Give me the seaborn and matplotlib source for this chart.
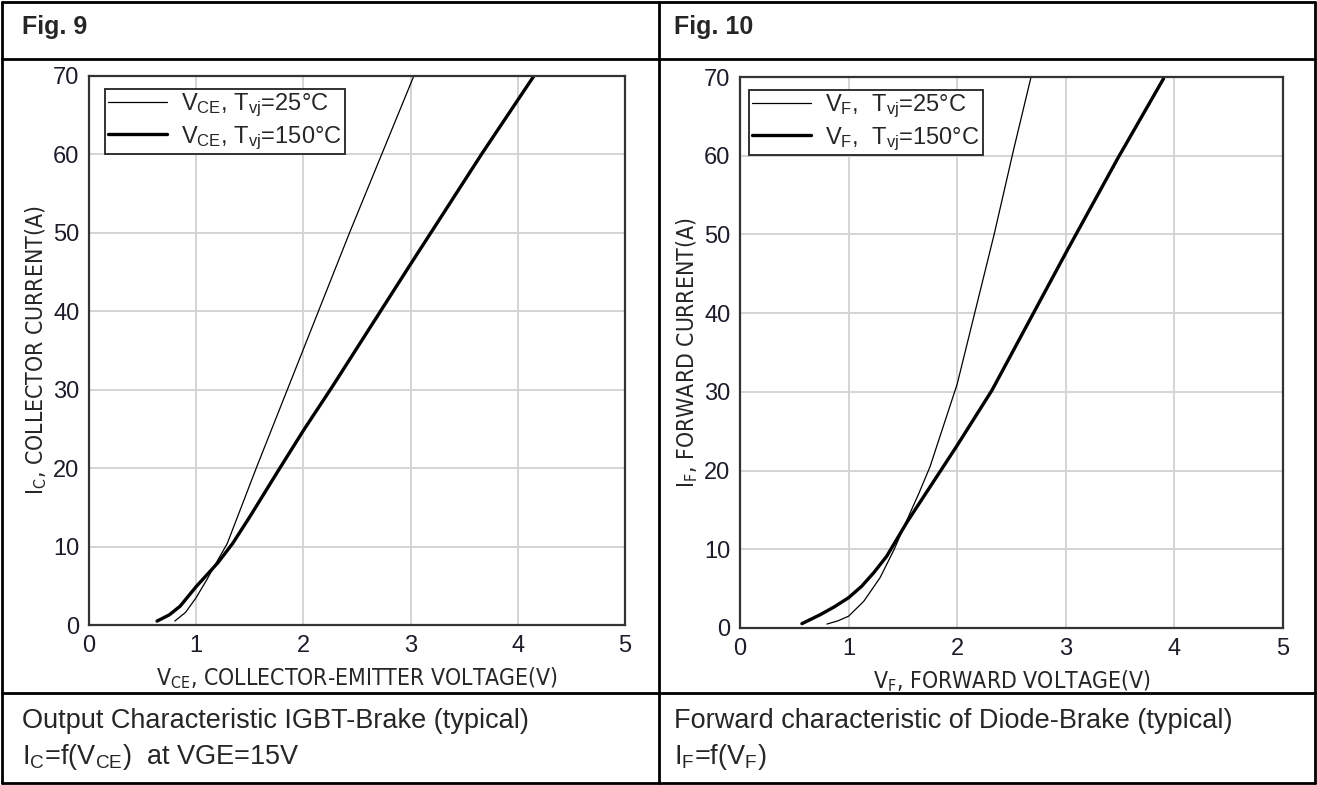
import matplotlib
matplotlib.use("Agg")
import matplotlib.pyplot as plt
import numpy as np
import pandas as pd
import seaborn as sns
from matplotlib.lines import Line2D

# Fig. 9 - IGBT output characteristic
igbt_v_25 = [0.80, 0.90, 1.00, 1.10, 1.19, 1.29, 1.56, 1.85, 2.43, 3.03]
igbt_i_25 = [0.5, 1.6, 3.5, 5.8, 8.0, 10.4, 20.0, 30.0, 50.0, 70.0]
igbt_v_150 = [0.635, 0.75, 0.85, 1.00, 1.20, 1.34, 1.50, 1.78, 2.00, 2.27, 2.99, 3.67, 4.15]
igbt_i_150 = [0.5, 1.3, 2.4, 4.9, 7.9, 10.4, 13.8, 20.0, 24.8, 30.4, 45.8, 60.2, 70.0]

# Fig. 10 - diode forward characteristic
diode_v_25 = [0.80, 0.90, 1.00, 1.14, 1.29, 1.42, 1.54, 1.65, 1.75, 2.00, 2.34, 2.52, 2.68]
diode_i_25 = [0.5, 0.9, 1.5, 3.4, 6.4, 10.0, 13.8, 17.2, 20.5, 31.0, 50.0, 60.8, 70.0]
diode_v_150 = [0.57, 0.74, 0.87, 1.00, 1.12, 1.23, 1.35, 1.54, 2.00, 2.32, 3.01, 3.48, 3.90]
diode_i_150 = [0.55, 1.7, 2.7, 3.85, 5.3, 7.0, 9.1, 13.5, 23.2, 30.2, 47.9, 59.7, 69.8]

x_ticks = [0, 1, 2, 3, 4, 5]
y_ticks = [0, 10, 20, 30, 40, 50, 60, 70]

sns.set_style("white")
plt.rcParams["font.family"] = ["Liberation Sans", "DejaVu Sans"]
plt.rcParams["mathtext.default"] = "regular"

W, H = 1317, 785
fig = plt.figure(figsize=(W / 100, H / 100), dpi=100)


def px_axes(x0, x1, top, bottom):
    return fig.add_axes([x0 / W, (H - bottom) / H, (x1 - x0) / W, (bottom - top) / H])


def draw_panel(ax, v25, i25, v150, i150, lab25, lab150, xlabel, ylabel, anchor_x):
    df25 = pd.DataFrame({"v": v25, "i": i25})
    df150 = pd.DataFrame({"v": v150, "i": i150})
    sns.lineplot(data=df25, x="v", y="i", ax=ax, color="black", lw=0.9,
                 sort=False, estimator=None, label=lab25)
    sns.lineplot(data=df150, x="v", y="i", ax=ax, color="black", lw=2.4,
                 sort=False, estimator=None, label=lab150)
    ax.set_xlim(0, 5)
    ax.set_ylim(0, 70)
    ax.set_xticks(x_ticks)
    ax.set_yticks(y_ticks)
    ax.grid(True, color="#d4d4d4", lw=1.4)
    ax.tick_params(length=0, labelsize=17, colors="#1c1c2a", pad=7)
    for s in ax.spines.values():
        s.set_color("#333333")
        s.set_linewidth(1.6)
    ax.set_xlabel(xlabel, fontsize=16.5, family="DejaVu Sans", stretch="condensed", labelpad=6)
    ax.set_ylabel(ylabel, fontsize=16.5, family="DejaVu Sans", stretch="condensed", labelpad=3)
    leg = ax.legend(loc="upper left", bbox_to_anchor=(anchor_x, 0.976),
                    borderaxespad=0, fontsize=17, fancybox=False, framealpha=1,
                    edgecolor="#222222", handlelength=2.5, handletextpad=0.6,
                    borderpad=0.12, labelspacing=0.2)
    leg.get_frame().set_linewidth(1.3)


ax1 = px_axes(89, 625, 76, 625)
draw_panel(ax1, igbt_v_25, igbt_i_25, igbt_v_150, igbt_i_150,
           r"$V_{CE}$, $T_{vj}$=25°C", r"$V_{CE}$, $T_{vj}$=150°C",
           r"$V_{CE}$, COLLECTOR-EMITTER VOLTAGE(V)", r"$I_C$, COLLECTOR CURRENT(A)", 0.03)

ax2 = px_axes(740, 1283, 77, 628)
draw_panel(ax2, diode_v_25, diode_i_25, diode_v_150, diode_i_150,
           r"$V_F$,  $T_{vj}$=25°C", r"$V_F$,  $T_{vj}$=150°C",
           r"$V_F$, FORWARD VOLTAGE(V)", r"$I_F$, FORWARD CURRENT(A)", 0.017)


# table frame
def hline(y, x0=2, x1=1315):
    fig.add_artist(Line2D([x0 / W, x1 / W], [(H - y) / H, (H - y) / H], color="black", lw=2))


def vline(x, y0=2, y1=783):
    fig.add_artist(Line2D([x / W, x / W], [(H - y0) / H, (H - y1) / H], color="black", lw=2))


hline(2)
hline(59)
hline(693)
hline(783)
vline(2)
vline(659)
vline(1315)

fig.text(22 / W, (H - 27) / H, "Fig. 9", fontsize=18, weight="bold", va="center")
fig.text(674 / W, (H - 27) / H, "Fig. 10", fontsize=18, weight="bold", va="center")

fig.text(22 / W, (H - 721) / H, "Output Characteristic IGBT-Brake (typical)", fontsize=19.5, va="center")
fig.text(22 / W, (H - 757) / H, r"$I_C$=f($V_{CE}$)  at VGE=15V", fontsize=19.5, va="center")
fig.text(674 / W, (H - 721) / H, "Forward characteristic of Diode-Brake (typical)", fontsize=19.5, va="center")
fig.text(674 / W, (H - 757) / H, r"$I_F$=f($V_F$)", fontsize=19.5, va="center")

fig.savefig("out.png", dpi=100)
